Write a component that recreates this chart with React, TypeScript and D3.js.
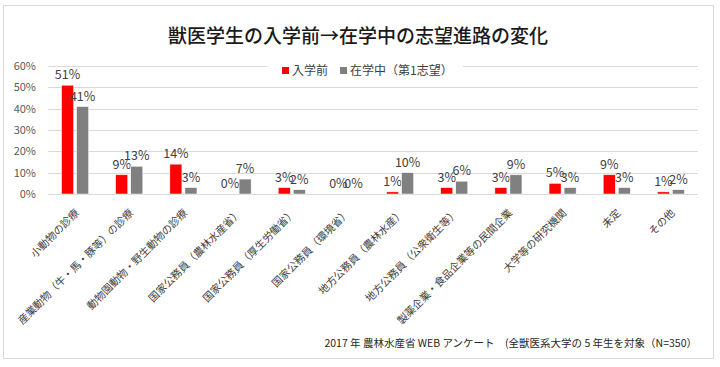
import React from 'react';
import * as d3 from 'd3';

const categories = [
  '小動物の診療',
  '産業動物（牛・馬・豚等）の診療',
  '動物園動物・野生動物の診療',
  '国家公務員（農林水産省）',
  '国家公務員（厚生労働省）',
  '国家公務員（環境省）',
  '地方公務員（農林水産）',
  '地方公務員（公衆衛生等）',
  '製薬企業・食品企業等の民間企業',
  '大学等の研究機関',
  '未定',
  'その他',
];
const beforeValues = [51, 9, 14, 0, 3, 0, 1, 3, 3, 5, 9, 1];
const duringValues = [41, 13, 3, 7, 2, 0, 10, 6, 9, 3, 3, 2];
const seriesNames = ['入学前', '在学中（第1志望）'];
const seriesColors = ['#ff0000', '#808080'];
const yTicks = [0, 10, 20, 30, 40, 50, 60];

const W = 720;
const H = 367;
const font = "'Noto Sans CJK JP', 'Noto Sans', sans-serif";

export default function App() {
  const margin = { left: 48, right: 22, top: 66, bottom: 173 };
  const plotBottom = H - margin.bottom;

  const x0 = d3.scaleBand<string>()
    .domain(categories)
    .range([margin.left, W - margin.right])
    .paddingInner(0.5)
    .paddingOuter(0.25);

  const x1 = d3.scaleBand<string>()
    .domain(seriesNames)
    .range([0, x0.bandwidth()])
    .paddingInner(0.2);

  const y = d3.scaleLinear().domain([0, 60]).range([plotBottom, margin.top]);

  const series = [beforeValues, duringValues];

  return (
    <svg width={W} height={H} style={{ position: 'absolute', left: 0, top: 0, background: '#fff' }} fontFamily={font}>
      <rect x={3.5} y={5.5} width={710} height={353} fill="#fff" stroke="#d9d9d9" />
      <text x={358} y={43} textAnchor="middle" fontSize={19} fontWeight={500} fill="#1a1a1a">
        獣医学生の入学前→在学中の志望進路の変化
      </text>

      {/* gridlines */}
      {yTicks.map((t) => {
        const yy = Math.round(y(t)) + 0.5;
        if (t === 60) {
          return (
            <g key={t}>
              <line x1={margin.left} x2={267} y1={yy} y2={yy} stroke="#d9d9d9" />
              <line x1={463} x2={W - margin.right} y1={yy} y2={yy} stroke="#d9d9d9" />
            </g>
          );
        }
        return <line key={t} x1={margin.left} x2={W - margin.right} y1={yy} y2={yy} stroke="#d9d9d9" />;
      })}
      {yTicks.map((t) => (
        <text key={'l' + t} x={36} y={y(t)} dy="0.35em" textAnchor="end" fontSize={11} fill="#595959">
          {t}%
        </text>
      ))}

      {/* bars */}
      {categories.map((c, i) => (
        <g key={c} transform={`translate(${x0(c)},0)`}>
          {series.map((vals, s) => {
            const bx = x1(seriesNames[s])!;
            return (
              <g key={s}>
                <rect
                  x={bx}
                  y={y(vals[i])}
                  width={x1.bandwidth()}
                  height={plotBottom - y(vals[i])}
                  fill={seriesColors[s]}
                  stroke="#ffffff"
                  strokeWidth={0.5}
                />
                <text
                  x={bx + x1.bandwidth() / 2}
                  y={y(vals[i]) - 6}
                  textAnchor="middle"
                  fontSize={12.5}
                  fill="#404040"
                >
                  {vals[i]}%
                </text>
              </g>
            );
          })}
        </g>
      ))}

      {/* category labels */}
      {categories.map((c) => {
        const cx = x0(c)! + x0.bandwidth() / 2 + 2;
        return (
          <text
            key={'c' + c}
            transform={`translate(${cx},${plotBottom + 17}) rotate(-45)`}
            textAnchor="end"
            dy="0.35em"
            fontSize={10.5}
            fill="#404040"
          >
            {c}
          </text>
        );
      })}

      {/* legend */}
      <g fontSize={12} fill="#404040">
        <rect x={282} y={67} width={7} height={7} fill={seriesColors[0]} />
        <text x={292} y={71} dy="0.35em">{seriesNames[0]}</text>
        <rect x={340} y={67} width={7} height={7} fill={seriesColors[1]} />
        <text x={350} y={71} dy="0.35em">{seriesNames[1]}</text>
      </g>

      <text x={697} y={343} dy="0.35em" textAnchor="end" fontSize={10.5} fill="#262626">
        2017 年 農林水産省 WEB アンケート　(全獣医系大学の 5 年生を対象（N=350）
      </text>
    </svg>
  );
}
